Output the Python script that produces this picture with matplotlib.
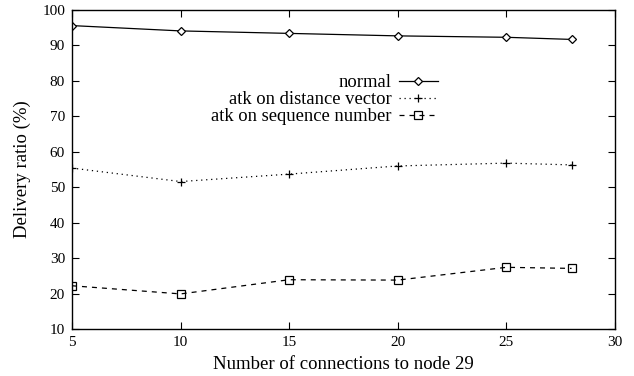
import matplotlib
matplotlib.use("Agg")
import matplotlib.pyplot as plt

x = [5, 10, 15, 20, 25, 28]
normal = [95.6, 94.1, 93.4, 92.7, 92.3, 91.7]
atk_dv = [55.4, 51.6, 53.7, 56.0, 56.8, 56.3]
atk_sn = [22.2, 19.9, 23.9, 23.8, 27.4, 27.1]
labels = ["normal", "atk on distance vector", "atk on sequence number"]
xticks = [5, 10, 15, 20, 25, 30]
yticks = [10, 20, 30, 40, 50, 60, 70, 80, 90, 100]

plt.rcParams['font.family'] = ['Liberation Serif', 'DejaVu Serif']

fig = plt.figure(figsize=(6.34, 3.76), dpi=100)
ax = fig.add_axes([72/634, 1-329/376, (615-72)/634, (329-10)/376])

ax.plot(x, normal, color='black', lw=0.9, ls='-', marker='D', ms=4,
        mfc='white', mec='black', mew=0.9, label=labels[0])
ax.plot(x, atk_dv, color='black', lw=0.9, ls=(0, (1, 3)), marker='+', ms=6,
        mec='black', mew=0.9, label=labels[1])
ax.plot(x, atk_sn, color='black', lw=0.9, ls=(0, (4, 4)), marker='s', ms=6,
        mfc='none', mec='black', mew=0.9, label=labels[2])

ax.set_xlim(5, 30)
ax.set_ylim(10, 100)
ax.set_xticks(xticks)
ax.set_yticks(yticks)
ax.tick_params(direction='in', length=5, width=0.8, top=True, right=True,
               labelsize=11, pad=5)
for s in ax.spines.values():
    s.set_linewidth(1.0)

ax.set_xlabel("Number of connections to node 29", fontsize=13.5, labelpad=5)
ax.set_ylabel("Delivery ratio (%)", fontsize=13.5, labelpad=8)

leg = ax.legend(loc='upper right', bbox_to_anchor=(438/634, 1-74/376),
                bbox_transform=fig.transFigure, frameon=False, markerfirst=False,
                fontsize=13.4, handlelength=2.1, handletextpad=0.4,
                labelspacing=0.0, borderpad=0, borderaxespad=0)
for t in leg.get_texts():
    t.set_ha('right')

fig.savefig("out.png", dpi=100)
